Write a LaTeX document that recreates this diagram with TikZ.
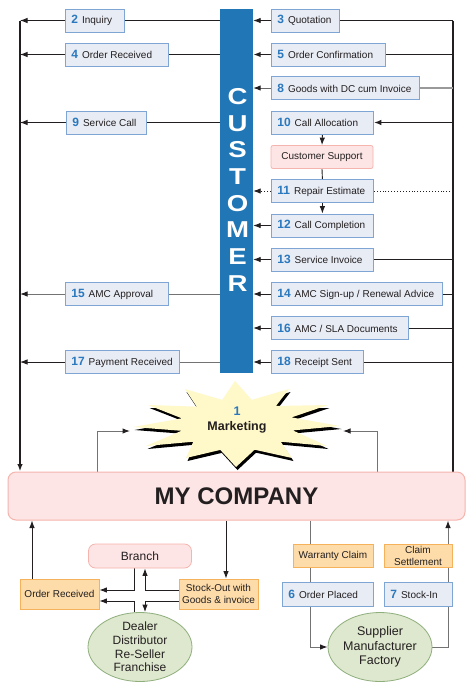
\documentclass[tikz,border=0pt]{standalone}
\usepackage{fontspec}
\setmainfont{Liberation Sans}
\newfontfamily\barfont[FakeStretch=1.2]{Liberation Sans}
\usetikzlibrary{arrows.meta,backgrounds,calc,shapes.geometric}
\definecolor{bluefill}{HTML}{E8ECF5}
\definecolor{bluebd}{HTML}{7EA5D3}
\definecolor{numblue}{HTML}{2A78BE}
\definecolor{barblue}{HTML}{2176B6}
\definecolor{pinkfill}{HTML}{FDE5E5}
\definecolor{pinkbd}{HTML}{F5B4AE}
\definecolor{orfill}{HTML}{FDDCAA}
\definecolor{orbd}{HTML}{F5B25A}
\definecolor{grfill}{HTML}{DEE8CE}
\definecolor{grbd}{HTML}{8EAE7C}
\definecolor{starfill}{HTML}{FFF8C8}
\definecolor{ink}{HTML}{231F20}
\newcommand\bnum[1]{{\color{numblue}\fontsize{12}{12}\selectfont\bfseries #1}\hspace{4pt}}
\begin{document}
\begin{tikzpicture}[x=1pt,y=-1pt,
  >={Latex[length=7.5pt,width=5.5pt,color=ink]},
  nb/.style={draw=bluebd, fill=bluefill, line width=0.8pt, minimum height=23pt,
    inner xsep=6pt, inner ysep=0pt, anchor=west,
    execute at begin node={\hbox to #1pt\bgroup},
    execute at end node={\hfil\egroup},
    font=\fontsize{10}{12}\selectfont, text=ink},
  ln/.style={draw=ink, line width=0.9pt},
  gln/.style={draw=black!55, line width=1pt},
  obox/.style={draw=orbd, fill=orfill, line width=0.8pt, inner xsep=2pt, inner ysep=0pt,
    font=\fontsize{10}{12}\selectfont, text=ink},
  pbox/.style={draw=pinkbd, fill=pinkfill, line width=0.8pt, rounded corners=5pt,
    inner sep=2pt, text=ink},
  gell/.style={ellipse, draw=grbd, fill=grfill, line width=0.8pt, inner sep=0pt,
    minimum width=104pt, minimum height=69pt}
]
\useasboundingbox (0,0) rectangle (475,689);

% customer bar
\node[fill=barblue, minimum width=33pt, minimum height=364pt, inner sep=0pt] (bar) at (236.5,191) {};
\foreach \l [count=\i] in {C,U,S,T,O,M,E,R}
  \node[text=white, font=\barfont\fontsize{23}{23}\selectfont\bfseries, inner sep=0pt] (cl\i) at (237.5,{96.5+26.7*(\i-1)}) {\l};

% left boxes
\node[nb=47] (L2) at (65,20.5) {\bnum{2}Inquiry};
\node[nb=91] (L4) at (65,54.5) {\bnum{4}Order Received};
\node[nb=68] (L9) at (66,122.5) {\bnum{9}Service Call};
\node[nb=91] (L15) at (65,294) {\bnum{15}AMC Approval};
\node[nb=102] (L17) at (65,362) {\bnum{17}Payment Received};

% right boxes
\node[nb=56] (R3) at (271,20.5) {\bnum{3}Quotation};
\node[nb=102] (R5) at (271,54.5) {\bnum{5}Order Confirmation};
\node[nb=136] (R8) at (271,88) {\bnum{8}Goods with DC cum Invoice};
\node[nb=90] (R10) at (271,122.5) {\bnum{10}Call Allocation};
\node[pbox, rounded corners=2pt, minimum width=102pt, minimum height=23pt, font=\fontsize{10}{12}\selectfont] (CS) at (322,157) {Customer Support};
\node[nb=90] (R11) at (271,191) {\bnum{11}Repair Estimate};
\node[nb=90] (R12) at (271,225.5) {\bnum{12}Call Completion};
\node[nb=90] (R13) at (271,259.5) {\bnum{13}Service Invoice};
\node[nb=159] (R14) at (271,294) {\bnum{14}AMC Sign-up / Renewal Advice};
\node[nb=125] (R16) at (271,328) {\bnum{16}AMC / SLA Documents};
\node[nb=80] (R18) at (271,362) {\bnum{18}Receipt Sent};

% company
\node[draw=pinkbd, fill=pinkfill, line width=1pt, rounded corners=8pt, minimum width=457pt,
  minimum height=48pt, text=ink, font=\fontsize{24}{24}\selectfont\bfseries] (co) at (236.5,496) {MY COMPANY};

% marketing star
\foreach \dx/\dy/\c in {1.5/3/black, 0/0/starfill}
  \fill[\c, shift={(\dx,\dy)}] (235,381) -- (251.8,399.9) -- (289,389) -- (275.9,406) -- (328,405)
    -- (291.5,417.4) -- (340,426) -- (292.8,430.4) -- (327,446) -- (280.7,441.7) -- (292,458)
    -- (254.6,449.7) -- (236,467) -- (220.3,449.9) -- (186,458) -- (193.3,441.7) -- (146,446)
    -- (181.5,430.8) -- (133,427) -- (181.9,418.3) -- (148,405) -- (196.7,406.6) -- (185,389)
    -- (222.2,399.9) -- cycle;
\node[align=center, text=ink, font=\fontsize{12.5}{15}\selectfont\bfseries] (MK) at (237,420)
  {{\color{numblue}1}\\Marketing};

% bottom nodes
\node[obox, minimum width=79pt, minimum height=30pt] (OR) at (59.5,594) {Order Received};
\node[pbox, rounded corners=7pt, minimum width=103pt, minimum height=24pt, font=\fontsize{12}{14}\selectfont] (BR) at (140,556) {Branch};
\node[obox, minimum width=79pt, minimum height=30pt, align=center] (SO) at (218.5,594) {Stock-Out with\\Goods \& invoice};
\node[gell] (DL) at (140,647) {};
\node[align=center, text=ink, font=\fontsize{12}{13.7}\selectfont] (DLt) at (DL.center) {Dealer\\Distributor\\Re-Seller\\Franchise};
\node[obox, minimum width=80pt, minimum height=23pt] (WC) at (333,555.5) {Warranty Claim};
\node[obox, minimum width=68pt, minimum height=23pt, align=center] (CL) at (418,555.5) {Claim\\Settlement};
\node[nb=79, minimum height=24pt] (OP) at (282,594) {\bnum{6}Order Placed};
\node[nb=56, minimum height=24pt] (SI) at (384,594) {\bnum{7}Stock-In};
\node[gell] (SP) at (380,647) {};
\node[align=center, text=ink, font=\fontsize{12.5}{14.3}\selectfont] (SPt) at (SP.center) {Supplier\\Manufacturer\\Factory};

% coordinates
\coordinate (LT) at (20,20.5);
\coordinate (RT) at (453,20.5);
\coordinate (mlb) at (97,431);
\coordinate (ml) at (130,431);
\coordinate (mrb) at (377,431);
\coordinate (mr) at (343,431);
\coordinate (ora) at (32,0);
\coordinate (soa) at (226,0);
\coordinate (xa) at (134,590);
\coordinate (xb) at (145,590);
\coordinate (xc) at (134,601);
\coordinate (xd) at (145,601);
\coordinate (wa) at (310,647);
\coordinate (sa) at (448,647);

\begin{scope}[on background layer]
\fill[white] (0,0) rectangle (475,689);
\draw[ink, line width=1.6pt, ->] (LT) -- (LT |- co.north);
\draw[ink, line width=1.2pt] (RT) -- (RT |- co.north);
\foreach \n in {L2,L4,L9} \draw[ln,->] (bar.west |- \n) -- (LT |- \n);
\draw[gln,->] (bar.west |- L15) -- (LT |- L15);
\draw[gln] (bar.west |- L17) -- (L17.east);
\draw[ln,->] (L17.west) -- (LT |- L17);
\foreach \n in {R3,R13,R14,R16,R18} \draw[ln,->] (RT |- \n) -- (bar.east |- \n);
\draw[ink, line width=1.6pt, ->] (RT |- R5) -- (bar.east |- R5);
\draw[black!40, line width=1.6pt] (RT |- R8) -- (R8.east);
\draw[black!60, line width=1pt, ->] (R8.west) -- (bar.east |- R8);
\draw[ink, line width=1.6pt, ->] (RT |- R10) -- (R10.east);
\draw[ln, dotted] (RT |- R11) -- (R11.east);
\draw[ln, dotted, ->] (R11.west) -- (bar.east |- R11);
\draw[ln,->] (R12.west) -- (bar.east |- R12);
\draw[ln,->] (R10.south) -- (CS.north);
\draw[ln] (CS.south) -- (R11.north);
\draw[ln,->] (R11.south) -- (R12.north);
% marketing
\draw[gln,->] (mlb |- co.north) -- (mlb) -- (ml);
\draw[gln,->] (mrb |- co.north) -- (mrb) -- (mr);
% bottom left
\draw[ln,->] (ora |- OR.north) -- (ora |- co.south);
\draw[ln,->] (soa |- co.south) -- (soa |- SO.north);
\draw[ln,->] (xa |- BR.south) -- (xa) -- (OR.east |- xa);
\draw[ln,->] (xc |- DL.north) -- (xc) -- (OR.east |- xc);
\draw[ln,->] (SO.west |- xb) -- (xb) -- (xb |- BR.south);
\draw[ln,->] (SO.west |- xd) -- (xd) -- (xd |- DL.north);
% bottom right
\draw[gln,->] (wa |- co.south) -- (wa) -- (SP.west);
\draw[gln,->] (SP.east) -- (sa) -- (sa |- co.south);
\end{scope}
\end{tikzpicture}
\end{document}
